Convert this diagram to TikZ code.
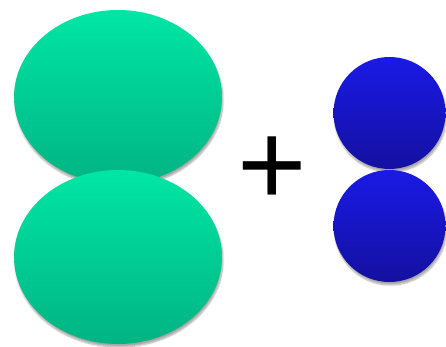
\documentclass[tikz,border=0pt]{standalone}
\usepackage{fontspec}
\newfontfamily\plusfont{Liberation Sans}
\usetikzlibrary{shadows.blur}

\definecolor{greentop}{HTML}{00E6A5}
\definecolor{greenbot}{HTML}{00B482}
\definecolor{bluetop}{HTML}{1A1AE6}
\definecolor{bluebot}{HTML}{1410A0}

\begin{document}
\begin{tikzpicture}[x=1pt, y=1pt,
  greenball/.style={top color=greentop, bottom color=greenbot,
    blur shadow={shadow xshift=1pt, shadow yshift=-3pt, shadow blur steps=6, shadow opacity=35}},
  blueball/.style={top color=bluetop, bottom color=bluebot,
    blur shadow={shadow xshift=1pt, shadow yshift=-3pt, shadow blur steps=6, shadow opacity=35}}]
\def\rx{104}
\def\ry{87}
\def\r{56}

\useasboundingbox (0,0) rectangle (446,346);

\coordinate (G1) at (118,249);
\coordinate (G2) at (118,89);
\coordinate (B1) at (389.5,233);
\coordinate (B2) at (389.5,120);

\shade[greenball] (G1) ellipse [x radius=\rx, y radius=\ry];
\shade[greenball] (G2) ellipse [x radius=\rx, y radius=\ry];

\shade[blueball] (B1) circle [radius=\r];
\shade[blueball] (B2) circle [radius=\r];

\node[inner sep=0pt, anchor=base] (plus) at (272,141)
  {\plusfont\fontsize{119}{119}\selectfont +};
\end{tikzpicture}
\end{document}
